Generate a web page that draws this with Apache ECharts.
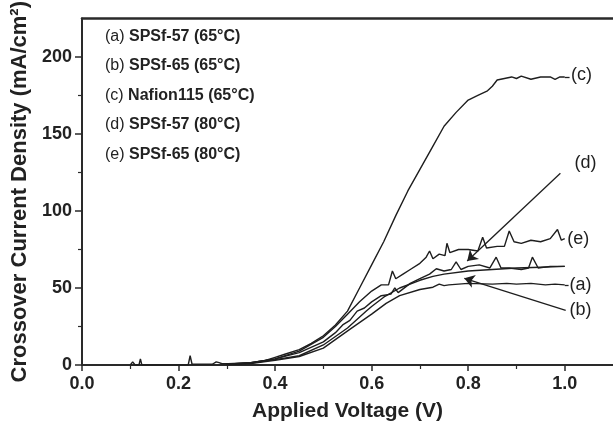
<!DOCTYPE html>
<html><head><meta charset="utf-8">
<script src="https://cdn.jsdelivr.net/npm/echarts@6/dist/echarts.min.js"></script>
<style>html,body{margin:0;padding:0;background:#fff}#c{width:613px;height:427px}</style>
</head><body><div id="c"></div>
<script>
const FONT = 'Liberation Sans, Arial, Helvetica, sans-serif';
const xMajorTicks = [0, 0.2, 0.4, 0.6, 0.8, 1.0];
const xMinorTicks = [0.1, 0.3, 0.5, 0.7, 0.9];
const yMajorTicks = [0, 50, 100, 150, 200];
const yMinorTicks = [25, 75, 125, 175];

const legendLines = [
  ['(a)', 'SPSf-57 (65°C)'],
  ['(b)', 'SPSf-65 (65°C)'],
  ['(c)', 'Nafion115 (65°C)'],
  ['(d)', 'SPSf-57 (80°C)'],
  ['(e)', 'SPSf-65 (80°C)']
];

const seriesA = [[0.30,0.3],[0.35,1],[0.40,3],[0.45,5.5],[0.50,11],[0.554,23],[0.60,33],[0.63,40],[0.658,45],[0.70,49],[0.727,50.5],[0.74,52.5],[0.75,51.5],[0.76,52],[0.80,53],[0.85,52.5],[0.88,53],[0.90,52.5],[0.93,53],[0.96,52],[0.98,52.5],[1.0,52]];
const seriesB = [[0.30,0.3],[0.35,1.2],[0.40,3.5],[0.45,6],[0.50,13],[0.55,24],[0.589,35],[0.60,38],[0.625,44],[0.658,50],[0.70,55],[0.727,57.5],[0.75,59],[0.80,61],[0.85,62],[0.90,63],[0.95,63.5],[1.0,64]];
const seriesC = [[0.10,0],[0.105,2],[0.11,0],[0.118,0],[0.121,4],[0.124,0],[0.22,0],[0.224,6],[0.228,0.5],[0.27,0.5],[0.278,2],[0.284,1.5],[0.29,0.8],[0.298,0.8],[0.30,2],[0.303,0.8],[0.35,1.5],[0.38,3],[0.40,5],[0.42,7],[0.45,10],[0.475,14],[0.50,19],[0.525,26],[0.55,35],[0.575,50],[0.60,65],[0.625,80],[0.65,97],[0.675,113],[0.70,127],[0.725,141],[0.75,155],[0.775,164],[0.80,172],[0.82,175],[0.84,178],[0.85,181],[0.86,185],[0.875,186],[0.89,187],[0.90,186],[0.91,187.5],[0.93,185.5],[0.95,187],[0.97,187],[0.98,185.5],[0.99,187],[1.0,187]];
const seriesD = [[0.30,0.5],[0.35,1.5],[0.40,4],[0.45,8],[0.50,15],[0.525,21],[0.54,26],[0.555,29],[0.57,35],[0.585,37],[0.60,41],[0.62,45],[0.64,46],[0.648,50],[0.655,47],[0.68,53],[0.70,56],[0.72,59],[0.734,62.5],[0.75,61],[0.765,62],[0.775,67],[0.785,62],[0.80,64],[0.823,65],[0.845,63],[0.858,70],[0.868,63],[0.885,63],[0.91,62],[0.925,63],[0.933,70],[0.945,63],[0.97,64],[1.0,64]];
const seriesE = [[0.30,0.5],[0.35,1.5],[0.40,4],[0.45,9],[0.50,18],[0.525,25],[0.55,33],[0.575,41],[0.60,48],[0.62,52],[0.635,52],[0.643,61],[0.65,56],[0.665,59],[0.68,62],[0.70,66],[0.713,70],[0.72,74],[0.727,69],[0.74,72],[0.752,71],[0.756,79],[0.762,73],[0.78,75],[0.80,75],[0.82,74],[0.83,83],[0.838,76],[0.86,77],[0.875,77],[0.885,87],[0.895,80],[0.91,79],[0.93,81],[0.95,80],[0.97,82],[0.985,88],[0.993,81],[1.0,82]];

// curve labels: [text, x, y]
const curveLabels = [['(c)',1.013,188],['(d)',1.02,131],['(e)',1.005,81.5],['(a)',1.01,52],['(b)',1.01,36]];
// arrows: [fromX, fromY, toX, toY]
const arrows = [[0.991,124.5,0.798,67.5],[1.002,35.5,0.792,56.3]];
// short leader dashes: [fromX, toX, y]
const leaders = [[1.0,1.01,187],[1.0,1.008,52]];

const LINE = '#1e1e1e';
const chart = echarts.init(document.getElementById('c'), null, {renderer:'canvas'});
const lineSeries = (name, data) => ({
  name, type:'line', data, xAxisIndex:0, yAxisIndex:0, symbol:'none', smooth:false,
  lineStyle:{color:LINE, width:1.4}, animation:false, silent:true
});
const sA = lineSeries('a', seriesA), sB = lineSeries('b', seriesB), sC = lineSeries('c', seriesC),
      sD = lineSeries('d', seriesD), sE = lineSeries('e', seriesE);
sD.markLine = {
  silent:true, animation:false, symbol:['none','arrow'], symbolSize:10,
  lineStyle:{color:LINE, width:1.3, type:'solid'}, label:{show:false},
  itemStyle:{color:LINE},
  data: arrows.map(a => [{coord:[a[0],a[1]]},{coord:[a[2],a[3]]}])
};
sC.markLine = {
  silent:true, animation:false, symbol:['none','none'],
  lineStyle:{color:LINE, width:1.3, type:'solid'}, label:{show:false},
  data: leaders.map(l => [{coord:[l[0],l[2]]},{coord:[l[1],l[2]]}])
};

const baseX = {type:'value', min:0, max:1.1, gridIndex:0, splitLine:{show:false}};
const baseY = {type:'value', min:0, max:225, gridIndex:0, splitLine:{show:false}};
const AX = '#2a2a2a';
chart.setOption({
  backgroundColor:'#fff',
  animation:false,
  grid:{left:82, top:13, width:532, height:356, containLabel:false},
  xAxis:[
    Object.assign({}, baseX, {position:'bottom',
      axisLine:{show:true, onZero:false, lineStyle:{color:AX, width:2}},
      axisTick:{show:true, inside:false, length:6, customValues:xMajorTicks, lineStyle:{color:AX, width:1.5}},
      axisLabel:{show:true, customValues:xMajorTicks, margin:10, formatter:v=>v.toFixed(1),
        fontSize:18, fontWeight:'bold', color:'#222', fontFamily:FONT},
      name:'Applied Voltage (V)', nameLocation:'middle', nameGap:36,
      nameTextStyle:{fontSize:21, fontWeight:'bold', color:'#222', fontFamily:FONT}}),
    Object.assign({}, baseX, {position:'top',
      axisLine:{show:true, onZero:false, lineStyle:{color:AX, width:2.5}},
      axisTick:{show:false}, axisLabel:{show:false}}),
    Object.assign({}, baseX, {position:'bottom',
      axisLine:{show:false, onZero:false},
      axisTick:{show:true, inside:false, length:4, customValues:xMinorTicks, lineStyle:{color:AX, width:1.2}},
      axisLabel:{show:false}})
  ],
  yAxis:[
    Object.assign({}, baseY, {position:'left',
      axisLine:{show:true, onZero:false, lineStyle:{color:AX, width:2}},
      axisTick:{show:true, inside:false, length:7, customValues:yMajorTicks, lineStyle:{color:AX, width:1.5}},
      axisLabel:{show:true, customValues:yMajorTicks, margin:10,
        fontSize:18, fontWeight:'bold', color:'#222', fontFamily:FONT},
      name:'Crossover Current Density (mA/cm²)', nameLocation:'middle', nameGap:45,
      nameTextStyle:{fontSize:22, fontWeight:'bold', color:'#222', fontFamily:FONT}}),
    Object.assign({}, baseY, {position:'left',
      axisLine:{show:false, onZero:false},
      axisTick:{show:true, inside:false, length:4, customValues:yMinorTicks, lineStyle:{color:AX, width:1.2}},
      axisLabel:{show:false}})
  ],
  series:[sA, sB, sC, sD, sE]
});

const graphics = legendLines.map((l, i) => ({
  type:'text', left:105, top:28.5 + i*29.5, silent:true,
  style:{text:'{r|' + l[0] + ' }{b|' + l[1] + '}', rich:{
    r:{fontSize:16, fontFamily:FONT, fill:'#222', color:'#222'},
    b:{fontSize:16, fontFamily:FONT, fontWeight:'bold', fill:'#222', color:'#222'}}}
}));
curveLabels.forEach(l => {
  const p = chart.convertToPixel({xAxisIndex:0, yAxisIndex:0}, [l[1], l[2]]);
  graphics.push({type:'text', x:p[0], y:p[1], silent:true,
    style:{text:l[0], fontSize:18, fontFamily:FONT, fill:LINE, align:'left', verticalAlign:'middle'}});
});
chart.setOption({graphic:graphics});
</script></body></html>
